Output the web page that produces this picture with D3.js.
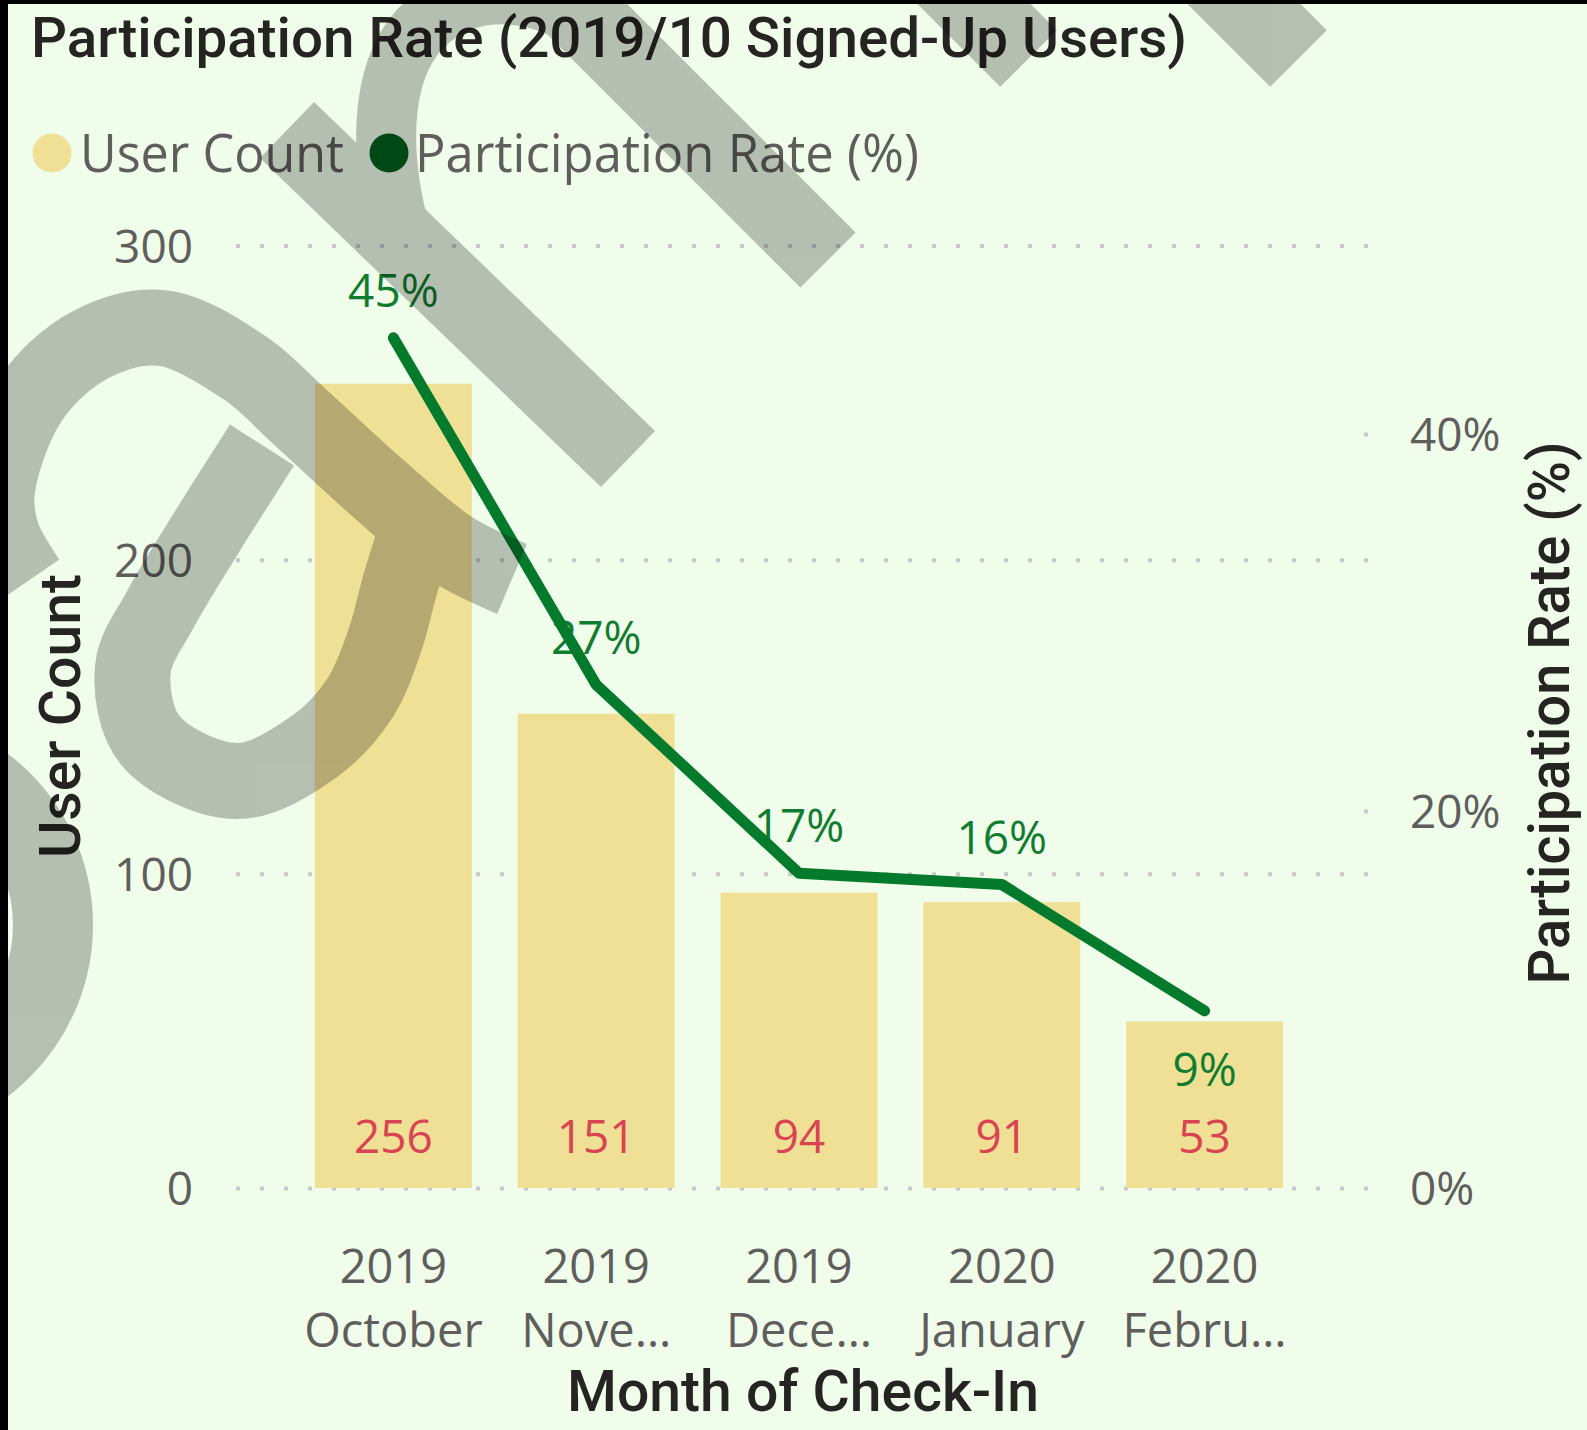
<!DOCTYPE html>
<html>
<head>
<meta charset="utf-8">
<script src="https://cdn.jsdelivr.net/npm/d3@7"></script>
<style>
  html, body { margin: 0; padding: 0; background: #f0fdea; }
  svg { display: block; }
</style>
</head>
<body>
<svg id="chart" width="1587" height="1430"></svg>
<script>
// ---- data ----
const months = ["2019 October", "2019 November", "2019 December", "2020 January", "2020 February"];
const userCount = [256, 151, 94, 91, 53];
const participationRate = [0.451, 0.267, 0.167, 0.161, 0.094];
const countTicks = [0, 100, 200, 300];
const rateTicks = [0, 0.2, 0.4];

// ---- layout / style ----
const W = 1587, H = 1430;
const BG = "#f0fdea";
const BODY_FONT = "'Open Sans', 'Noto Sans', sans-serif";
const HEAD_FONT = "Roboto, 'DejaVu Sans', sans-serif";
const HEAD_WEIGHT = 500;
const plotTop = 245.5, plotBottom = 1188;
const gridLeft = 236, gridRight = 1368;
const BAR_FILL = "#efe096";
const LINE_COLOR = "#047a2c";
const GREEN_LABEL = "#107c30";
const RED_LABEL = "#d94452";
const TICK_COLOR = "#605e5c";
const TITLE_COLOR = "#252423";
const LABEL_BELOW = new Set(["2020 February"]);
const MAX_TICK_WIDTH = 181;

const svg = d3.select("#chart");
svg.append("rect").attr("width", W).attr("height", H).attr("fill", BG);

// ---- scales ----
const x = d3.scaleBand().domain(months).range([292, 1306]).paddingInner(0.226).paddingOuter(0.113);
const y = d3.scaleLinear().domain([0, 300]).range([plotBottom, plotTop]);
const yR = d3.scaleLinear().domain([0, 0.5]).range([plotBottom, plotTop]);
const cx = d => x(d) + x.bandwidth() / 2;

function squeeze(sel, width) {
  sel.attr("textLength", width).attr("lengthAdjust", "spacingAndGlyphs");
}

// ---- dotted gridlines ----
const grid = svg.append("g").attr("transform", `translate(${gridLeft},0)`)
  .call(d3.axisLeft(y).tickValues(countTicks).tickSize(-(gridRight - gridLeft)).tickFormat(""));
grid.select(".domain").remove();
grid.selectAll(".tick line")
  .attr("stroke", "#c8c8c8").attr("stroke-width", 4).attr("stroke-dasharray", "4 20");

// secondary axis tick marks (single dots at the plot edge)
const rDots = svg.append("g").attr("transform", `translate(${gridRight - 4},0)`)
  .call(d3.axisRight(yR).tickValues(rateTicks.filter(v => v > 0)).tickSize(4).tickFormat(""));
rDots.select(".domain").remove();
rDots.selectAll(".tick line").attr("stroke", "#c8c8c8").attr("stroke-width", 4);

// ---- bars ----
svg.append("g").selectAll("rect").data(months).join("rect")
  .attr("x", d => x(d))
  .attr("y", (d, i) => y(userCount[i]))
  .attr("width", x.bandwidth())
  .attr("height", (d, i) => y(0) - y(userCount[i]))
  .attr("fill", BAR_FILL);

// bar value labels, sitting inside the base of each bar
svg.append("g").selectAll("text").data(months).join("text")
  .attr("x", d => cx(d))
  .attr("y", y(0) - 35)
  .attr("text-anchor", "middle")
  .attr("font-family", BODY_FONT).attr("font-size", 46)
  .attr("fill", RED_LABEL)
  .text((d, i) => userCount[i]);

// ---- participation rate labels ----
const pct = d3.format(".0%");
svg.append("g").selectAll("text").data(months).join("text")
  .attr("x", d => cx(d))
  .attr("y", (d, i) => LABEL_BELOW.has(d) ? yR(participationRate[i]) + 75 : yR(participationRate[i]) - 31)
  .attr("text-anchor", "middle")
  .attr("font-family", BODY_FONT).attr("font-size", 46)
  .attr("fill", GREEN_LABEL)
  .text((d, i) => pct(participationRate[i]));

// ---- participation rate line ----
const line = d3.line().x((d, i) => cx(months[i])).y(d => yR(d));
svg.append("path").datum(participationRate)
  .attr("d", line)
  .attr("fill", "none")
  .attr("stroke", LINE_COLOR).attr("stroke-width", 11)
  .attr("stroke-linecap", "round").attr("stroke-linejoin", "round");

// ---- axes labels ----
const yAxis = svg.append("g").attr("transform", `translate(${gridLeft},0)`)
  .call(d3.axisLeft(y).tickValues(countTicks).tickSize(0).tickPadding(43));
yAxis.select(".domain").remove();
yAxis.selectAll("text")
  .attr("font-family", BODY_FONT).attr("font-size", 46).attr("fill", TICK_COLOR).attr("dy", "0.36em");

const rAxis = svg.append("g").attr("transform", `translate(${gridRight},0)`)
  .call(d3.axisRight(yR).tickValues(rateTicks).tickSize(0).tickPadding(42).tickFormat(pct));
rAxis.select(".domain").remove();
rAxis.selectAll("text")
  .attr("font-family", BODY_FONT).attr("font-size", 46).attr("fill", TICK_COLOR).attr("dy", "0.36em");

const xAxis = svg.append("g").attr("transform", `translate(0,${plotBottom})`)
  .call(d3.axisBottom(x).tickSize(0).tickFormat(""));
xAxis.select(".domain").remove();
xAxis.selectAll(".tick text").remove();

function fitLabel(textSel, full, maxW) {
  textSel.text(full);
  const node = textSel.node();
  if (node.getComputedTextLength() <= maxW) return;
  let s = full;
  while (s.length > 1) {
    s = s.slice(0, -1);
    textSel.text(s + "…");
    if (node.getComputedTextLength() <= maxW) return;
  }
}

xAxis.selectAll(".tick").each(function (d) {
  const parts = d.split(" ");
  const g = d3.select(this);
  const t1 = g.append("text").attr("y", 95).attr("text-anchor", "middle")
    .attr("font-family", BODY_FONT).attr("font-size", 47).attr("fill", TICK_COLOR);
  fitLabel(t1, parts[0], MAX_TICK_WIDTH);
  const t2 = g.append("text").attr("y", 159).attr("text-anchor", "middle")
    .attr("font-family", BODY_FONT).attr("font-size", 47).attr("fill", TICK_COLOR);
  fitLabel(t2, parts.slice(1).join(" "), MAX_TICK_WIDTH);
});

// ---- axis titles ----
svg.append("text")
  .attr("x", 803).attr("y", 1411).attr("text-anchor", "middle")
  .attr("font-family", HEAD_FONT).attr("font-weight", HEAD_WEIGHT).attr("font-size", 57)
  .attr("fill", TITLE_COLOR).text("Month of Check-In")
  .call(squeeze, 472);

svg.append("text")
  .attr("transform", "translate(80,716) rotate(-90)").attr("text-anchor", "middle")
  .attr("font-family", HEAD_FONT).attr("font-weight", HEAD_WEIGHT).attr("font-size", 57)
  .attr("fill", TITLE_COLOR).text("User Count")
  .call(squeeze, 284);

svg.append("text")
  .attr("transform", "translate(1569,713) rotate(-90)").attr("text-anchor", "middle")
  .attr("font-family", HEAD_FONT).attr("font-weight", HEAD_WEIGHT).attr("font-size", 57)
  .attr("fill", TITLE_COLOR).text("Participation Rate (%)")
  .call(squeeze, 543);

// ---- legend ----
const legend = svg.append("g");
legend.append("circle").attr("cx", 52).attr("cy", 153).attr("r", 19.5).attr("fill", BAR_FILL);
legend.append("text").attr("x", 80).attr("y", 172)
  .attr("font-family", BODY_FONT).attr("font-size", 53).attr("fill", TICK_COLOR)
  .text("User Count").call(squeeze, 264);
legend.append("circle").attr("cx", 389).attr("cy", 153).attr("r", 19.5).attr("fill", "#00611f");
legend.append("text").attr("x", 415).attr("y", 172)
  .attr("font-family", BODY_FONT).attr("font-size", 53).attr("fill", TICK_COLOR)
  .text("Participation Rate (%)").call(squeeze, 504);

// ---- chart title ----
svg.append("text").attr("x", 31).attr("y", 56.5)
  .attr("font-family", HEAD_FONT).attr("font-weight", HEAD_WEIGHT).attr("font-size", 55)
  .attr("fill", TITLE_COLOR)
  .text("Participation Rate (2019/10 Signed-Up Users)")
  .call(squeeze, 1156);

// ---- translucent monogram watermark laid over the visual ----
const mark = svg.append("g").attr("opacity", 0.24)
  .attr("fill", "none").attr("stroke", "#000").attr("stroke-linecap", "butt").attr("stroke-linejoin", "round");
const smooth = d3.line().curve(d3.curveCatmullRom.alpha(0.5));

// large ring cut by the left edge
mark.append("circle").attr("cx", -122).attr("cy", 925).attr("r", 175).attr("stroke-width", 80);
// hooked stroke and tail of the first glyph
mark.append("path").attr("stroke-width", 76).attr("d", smooth([
  [28, 581], [2, 535], [-3, 490], [30, 400], [90, 345], [162, 328], [245, 368],
  [300, 417], [380, 490], [450, 548], [512, 579]
]));
// bowl of the first glyph, joining the tail
mark.append("path").attr("stroke-width", 76).attr("d", smooth([
  [262, 445], [205, 535], [160, 610], [133, 668], [150, 740], [237, 781],
  [315, 746], [360, 698], [385, 640], [400, 585], [414, 540]
]));
// stem, arch and right leg of the second glyph
mark.append("path").attr("stroke-width", 78).attr("d", "M287,130 L628,459");
mark.append("path").attr("stroke-width", 60)
  .attr("d", "M400,232 C378,150 378,60 432,18 C482,-22 560,-10 612,44");
mark.append("path").attr("stroke-width", 78).attr("d", "M560,-8 L828,260");
// strokes entering from the top edge
mark.append("path").attr("stroke-width", 80).attr("d", "M880,-90 L1028.5,58.5");
mark.append("path").attr("stroke-width", 80).attr("d", "M1150,-90 L1298.5,58.5");

// ---- frame edges ----
svg.append("rect").attr("x", 0).attr("y", 0).attr("width", W).attr("height", 4).attr("fill", "#000");
svg.append("rect").attr("x", 0).attr("y", 0).attr("width", 8).attr("height", H).attr("fill", "#000");
</script>
</body>
</html>
